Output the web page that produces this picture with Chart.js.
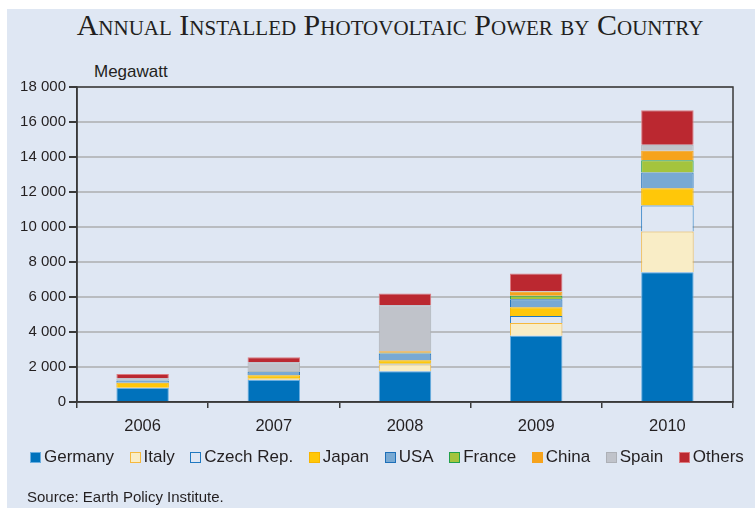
<!DOCTYPE html>
<html>
<head>
<meta charset="utf-8">
<script src="https://cdn.jsdelivr.net/npm/chart.js@4/dist/chart.umd.min.js"></script>
<style>
  html, body { margin: 0; padding: 0; background: #fff; }
  #panel { position: absolute; left: 7px; top: 9px; width: 748px; height: 499px; background: #dfe7f3; }
  #title { position: absolute; left: 0; top: 8px; width: 780px; text-align: center; font-family: "Liberation Serif", serif; font-size: 30px; font-variant: small-caps; color: #231f20; }
  #unit { position: absolute; left: 94px; top: 62px; font-family: "Liberation Sans", Arial, sans-serif; font-size: 17px; color: #231f20; }
  #legend { position: absolute; left: 30px; top: 447px; display: flex; font-family: "Liberation Sans", Arial, sans-serif; font-size: 17px; color: #231f20; white-space: nowrap; }
  #legend .item { display: flex; align-items: center; margin-right: 15.6px; }
  #legend .box { width: 9px; height: 9px; margin-right: 3px; }
  #source { position: absolute; left: 27px; top: 488px; font-family: "Liberation Sans", Arial, sans-serif; font-size: 15px; color: #231f20; }
  canvas { position: absolute; left: 0; top: 0; }
</style>
</head>
<body>
<div id="panel"></div>
<div id="title">Annual Installed Photovoltaic Power by Country</div>
<div id="unit">Megawatt</div>
<canvas id="myChart" width="755" height="508"></canvas>
<div id="legend"></div>
<div id="source">Source: Earth Policy Institute.</div>
<script>
const years = ['2006', '2007', '2008', '2009', '2010'];
const germany = [800, 1260, 1760, 3780, 7415];
const italy = [15, 60, 380, 730, 2330];
const czech = [0, 5, 40, 400, 1490];
const japan = [290, 205, 210, 500, 975];
const usa = [130, 210, 380, 460, 900];
const france = [5, 10, 50, 200, 705];
const china = [10, 20, 80, 230, 540];
const spain = [110, 505, 2635, 40, 340];
const others = [245, 285, 670, 1000, 1980];
const yTicks = [0, 2000, 4000, 6000, 8000, 10000, 12000, 14000, 16000, 18000];

const series = [
    { label: 'Germany', data: germany, fill: '#0072bc', edge: '#6aaee0' },
    { label: 'Italy', data: italy, fill: '#f9edc6', edge: '#f6b83c' },
    { label: 'Czech Rep.', data: czech, fill: '#dfe7f3', edge: '#1f78c1' },
    { label: 'Japan', data: japan, fill: '#ffc709', edge: '#f7b500' },
    { label: 'USA', data: usa, fill: '#78a9d3', edge: '#1d6fb8' },
    { label: 'France', data: france, fill: '#a4c43d', edge: '#22a04b' },
    { label: 'China', data: china, fill: '#f6a31c', edge: '#f6a31c' },
    { label: 'Spain', data: spain, fill: '#c0c3ca', edge: '#adb0b6' },
    { label: 'Others', data: others, fill: '#bb2830', edge: '#dc7b80' }
];

function spaced(v) {
    return String(v).replace(/\B(?=(\d{3})+(?!\d))/g, ' ');
}

// dark frame around the plot area
const frame = {
    id: 'frame',
    afterDraw(chart) {
        const a = chart.chartArea;
        const ctx = chart.ctx;
        ctx.save();
        ctx.strokeStyle = '#3a3a3a';
        ctx.lineWidth = 1.5;
        ctx.strokeRect(a.left, a.top, a.right - a.left, a.bottom - a.top);
        ctx.restore();
    }
};

// legend built as html from the chart's datasets
const htmlLegend = {
    id: 'htmlLegend',
    afterUpdate(chart) {
        const box = document.getElementById('legend');
        box.innerHTML = '';
        chart.data.datasets.forEach(ds => {
            const item = document.createElement('span');
            item.className = 'item';
            const sw = document.createElement('span');
            sw.className = 'box';
            sw.style.background = ds.backgroundColor;
            sw.style.border = '1px solid ' + ds.borderColor;
            const txt = document.createElement('span');
            txt.textContent = ds.label;
            item.appendChild(sw);
            item.appendChild(txt);
            box.appendChild(item);
        });
    }
};

document.addEventListener('DOMContentLoaded', function() {
    const ctx = document.getElementById('myChart').getContext('2d');
    new Chart(ctx, {
        type: 'bar',
        data: {
            labels: years,
            datasets: series.map(s => ({
                label: s.label,
                data: s.data,
                backgroundColor: s.fill,
                borderColor: s.edge,
                borderWidth: 1,
                barPercentage: 0.4,
                categoryPercentage: 1
            }))
        },
        options: {
            responsive: false,
            animation: false,
            layout: { padding: { left: 5, top: 87, right: 22, bottom: 72 } },
            plugins: {
                tooltip: { enabled: false },
                legend: { display: false }
            },
            scales: {
                x: {
                    stacked: true,
                    grid: { offset: true, drawOnChartArea: false, drawTicks: true, tickLength: 6, tickColor: '#3a3a3a', lineWidth: 1.5 },
                    border: { color: '#3a3a3a', width: 1.5 },
                    ticks: { color: '#231f20', padding: 9, font: { family: '"Liberation Sans", Arial, sans-serif', size: 16.5 } },
                    afterFit(scale) { scale.height = 34; }
                },
                y: {
                    stacked: true,
                    min: 0,
                    max: 18000,
                    afterBuildTicks(scale) { scale.ticks = yTicks.map(v => ({ value: v })); },
                    grid: { color: '#b9bcc0', lineWidth: 2, tickLength: 8, tickColor: '#3a3a3a' },
                    border: { color: '#3a3a3a', width: 1.5 },
                    ticks: {
                        color: '#231f20',
                        padding: 3,
                        font: { family: '"Liberation Sans", Arial, sans-serif', size: 15 },
                        callback: v => spaced(v)
                    },
                    afterFit(scale) { scale.width = 72; }
                }
            }
        },
        plugins: [frame, htmlLegend]
    });
});
</script>
</body>
</html>
